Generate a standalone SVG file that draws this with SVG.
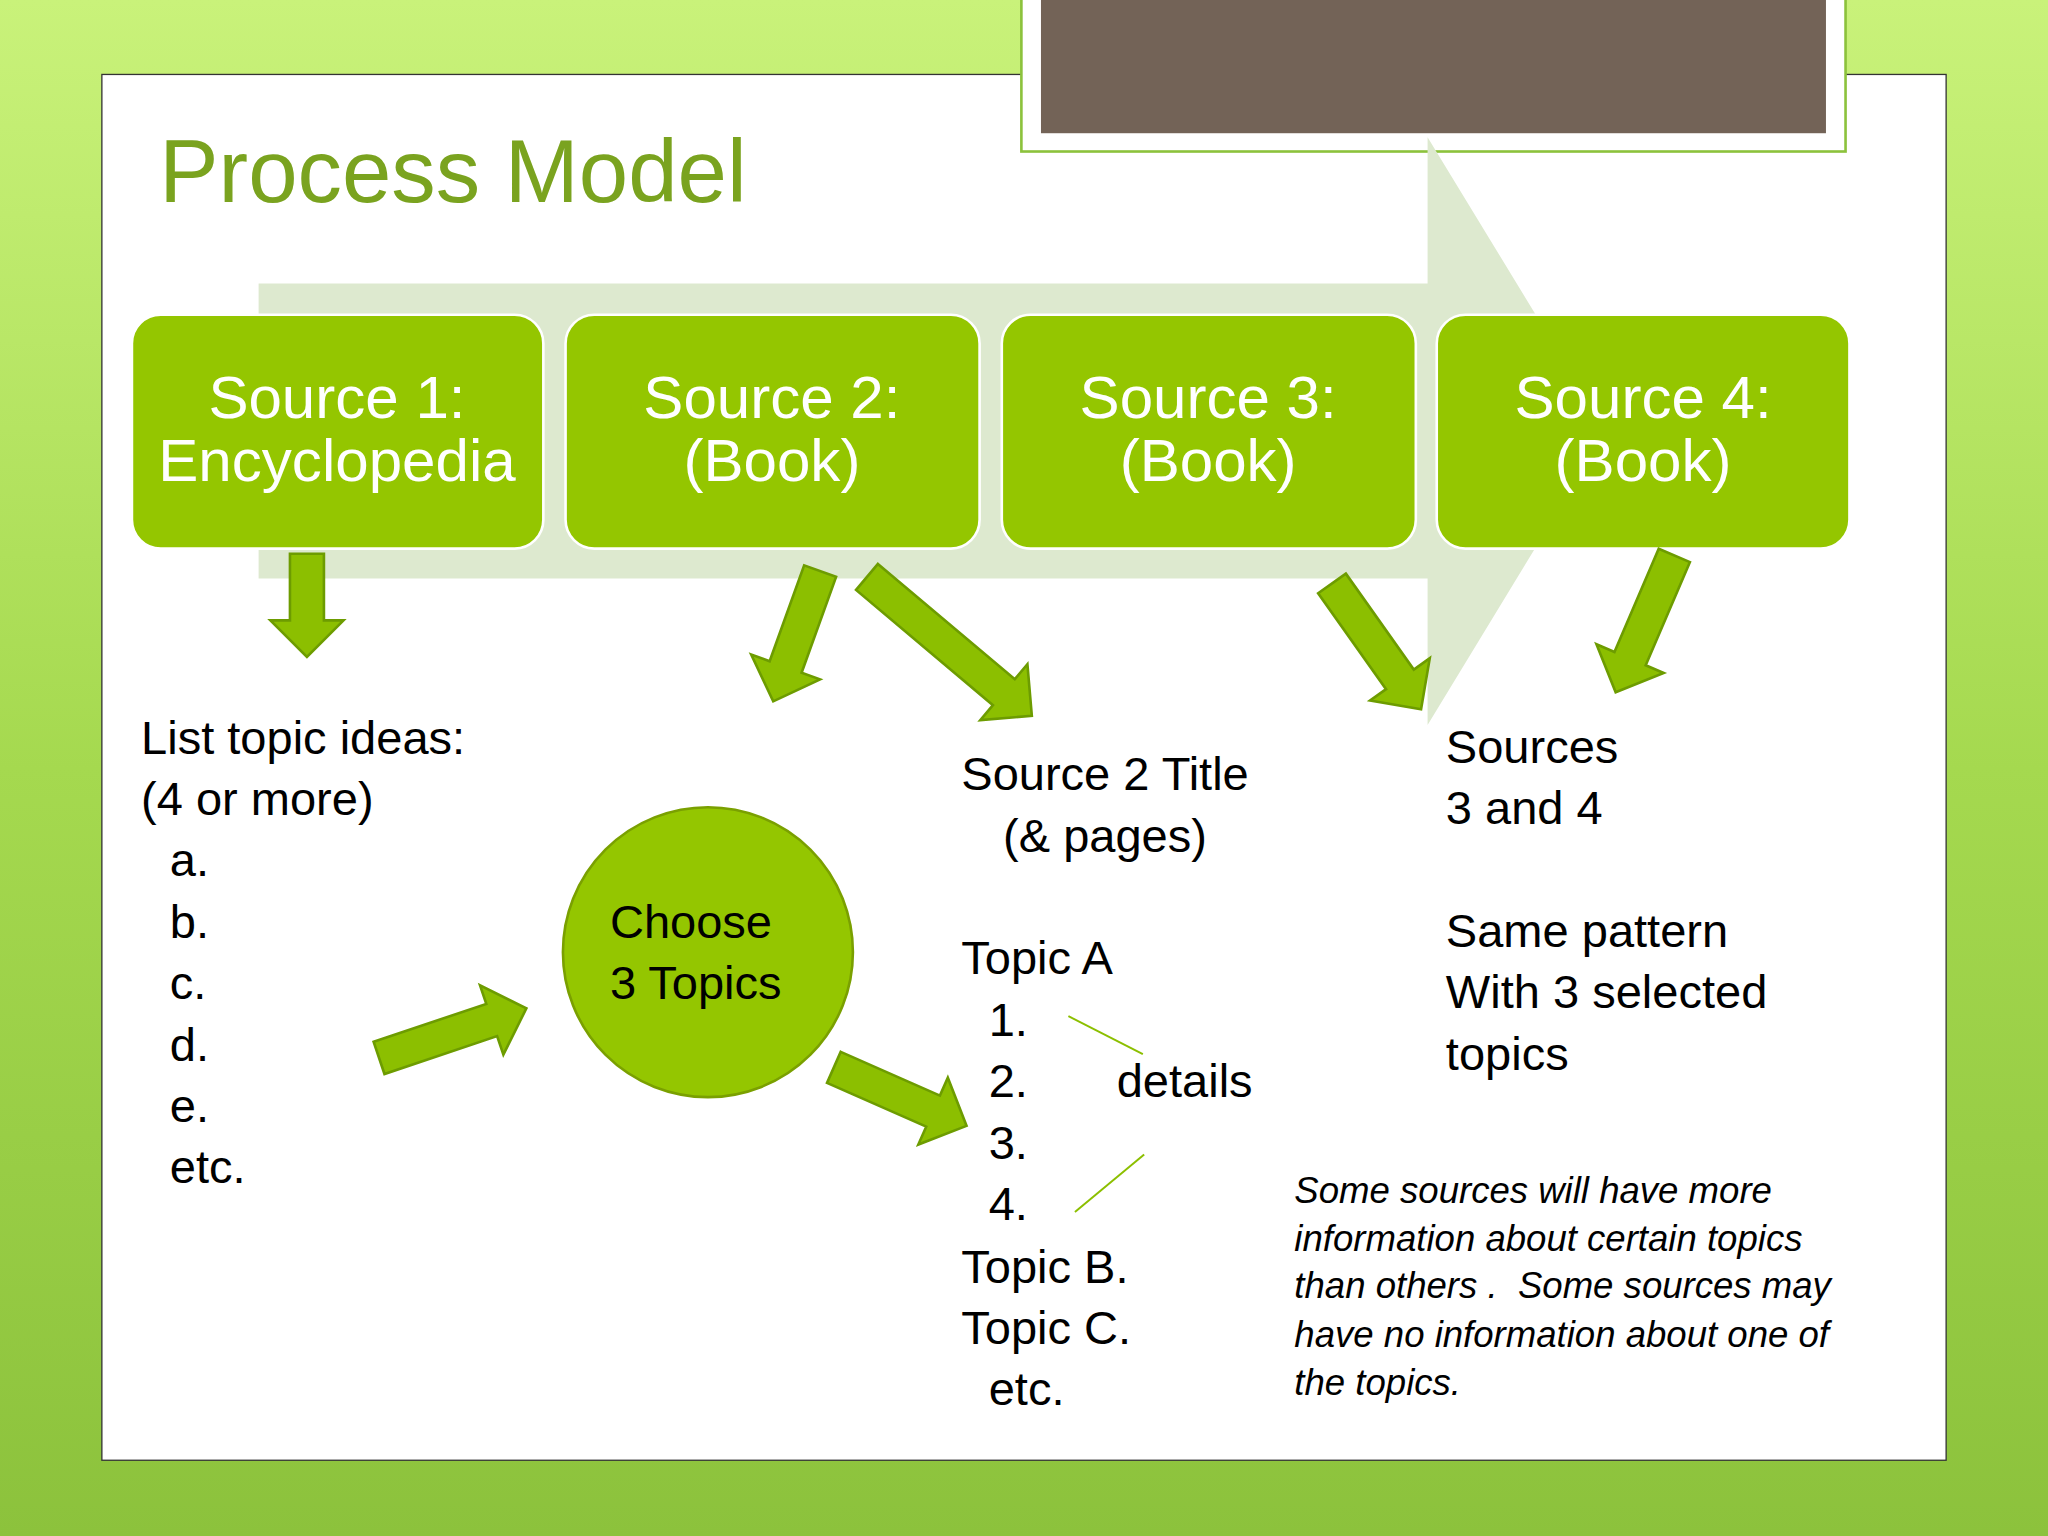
<svg xmlns="http://www.w3.org/2000/svg" width="2048" height="1536" viewBox="0 0 2048 1536">
<defs>
<linearGradient id="bg" x1="0" y1="0" x2="0" y2="1"><stop offset="0" stop-color="#c9f27a"/><stop offset="0.5" stop-color="#a5d94f"/><stop offset="1" stop-color="#8cc23c"/></linearGradient>
<style>
.box{fill:#94c600;stroke:#ffffff;stroke-width:2}
.bt{font-family:"Liberation Sans",Arial,sans-serif;font-size:46px;fill:#ffffff;text-anchor:middle}
.t{font-family:"Liberation Sans",Arial,sans-serif;font-size:36px;fill:#000}
.it{font-family:"Liberation Sans",Arial,sans-serif;font-size:28px;font-style:italic;fill:#000}
.arr{fill:#8cbf00;stroke:#6d9c00;stroke-width:2}
</style>
<path id="a" d="M0,-13 L-28,-13 L-28,-28 L0,0 L-28,28 L-28,13 Z"/>
</defs>
<g transform="scale(1.30612)">
<rect width="1568" height="1176" fill="url(#bg)"/>
<rect x="78" y="57" width="1412" height="1061" fill="#ffffff" stroke="#333" stroke-width="1"/>
<rect x="782" y="-2" width="631" height="118" fill="#ffffff" stroke="#8cc23c" stroke-width="2"/>
<rect x="797" y="-2" width="601" height="104" fill="#736357"/>
<text x="122" y="155" font-family="Liberation Sans,Arial,sans-serif" font-size="68" fill="#7aa31f">Process Model</text>
<polygon points="198,217 1093,217 1093,105 1230,330 1093,555 1093,443 198,443" fill="#dde9cf"/>
<g id="s1"><rect class="box" x="101" y="241" width="315" height="179" rx="22"/><text class="bt" x="258" y="320">Source 1:</text><text class="bt" x="258" y="368">Encyclopedia</text></g>
<g id="s2"><rect class="box" x="433" y="241" width="317" height="179" rx="22"/><text class="bt" x="591" y="320">Source 2:</text><text class="bt" x="591" y="368">(Book)</text></g>
<g id="s3"><rect class="box" x="767" y="241" width="317" height="179" rx="22"/><text class="bt" x="925" y="320">Source 3:</text><text class="bt" x="925" y="368">(Book)</text></g>
<g id="s4"><rect class="box" x="1100" y="241" width="316" height="179" rx="22"/><text class="bt" x="1258" y="320">Source 4:</text><text class="bt" x="1258" y="368">(Book)</text></g>
<g id="connectors">
<path class="arr" transform="translate(235,503) rotate(90)" d="M-79,-13 L-28,-13 L-28,-28 L0,0 L-28,28 L-28,13 L-79,13 Z"/>
<path class="arr" transform="translate(592,537) rotate(109.8)" d="M-106,-13 L-28,-13 L-28,-28 L0,0 L-28,28 L-28,13 L-106,13 Z"/>
<path class="arr" transform="translate(790,548) rotate(40.1)" d="M-165,-13 L-28,-13 L-28,-28 L0,0 L-28,28 L-28,13 L-165,13 Z"/>
<path class="arr" transform="translate(1088,543) rotate(54.7)" d="M-118,-13 L-28,-13 L-28,-28 L0,0 L-28,28 L-28,13 L-118,13 Z"/>
<path class="arr" transform="translate(1237,530) rotate(113.2)" d="M-114,-13 L-28,-13 L-28,-28 L0,0 L-28,28 L-28,13 L-114,13 Z"/>
<path class="arr" transform="translate(403,772) rotate(-18.6)" d="M-119,-13 L-28,-13 L-28,-28 L0,0 L-28,28 L-28,13 L-119,13 Z"/>
<path class="arr" transform="translate(740,862) rotate(23.8)" d="M-111,-13 L-28,-13 L-28,-28 L0,0 L-28,28 L-28,13 L-111,13 Z"/>
<line x1="818" y1="778" x2="875" y2="807" stroke="#8cbf00" stroke-width="1.5"/>
<line x1="823" y1="928" x2="876" y2="884" stroke="#8cbf00" stroke-width="1.5"/>
</g>
<g id="choose"><circle cx="542" cy="729" r="111" fill="#94c600" stroke="#7aa000" stroke-width="2"/><text class="t" x="467" y="718">Choose</text><text class="t" x="467" y="765">3 Topics</text></g>
<g id="list">
<text class="t" x="108" y="577">List topic ideas:</text><text class="t" x="108" y="624">(4 or more)</text>
<text class="t" x="130" y="671">a.</text><text class="t" x="130" y="718">b.</text><text class="t" x="130" y="765">c.</text><text class="t" x="130" y="812">d.</text><text class="t" x="130" y="859">e.</text><text class="t" x="130" y="906">etc.</text>
</g>
<g id="src2">
<text class="t" x="736" y="605">Source 2 Title</text><text class="t" x="768" y="652">(&amp; pages)</text>
<text class="t" x="736" y="746">Topic A</text><text class="t" x="757" y="793">1.</text><text class="t" x="757" y="840">2.</text><text class="t" x="855" y="840">details</text><text class="t" x="757" y="887">3.</text><text class="t" x="757" y="934">4.</text>
<text class="t" x="736" y="982">Topic B.</text><text class="t" x="736" y="1029">Topic C.</text><text class="t" x="757" y="1076">etc.</text>
</g>
<g id="src34">
<text class="t" x="1107" y="584">Sources</text><text class="t" x="1107" y="631">3 and 4</text>
<text class="t" x="1107" y="725">Same pattern</text><text class="t" x="1107" y="772">With 3 selected</text><text class="t" x="1107" y="819">topics</text>
</g>
<g id="note">
<text class="it" x="991" y="921">Some sources will have more</text>
<text class="it" x="991" y="958">information about certain topics</text>
<text class="it" x="991" y="994" xml:space="preserve">than others .  Some sources may</text>
<text class="it" x="991" y="1031">have no information about one of</text>
<text class="it" x="991" y="1068">the topics.</text>
</g>
</g>
</svg>
